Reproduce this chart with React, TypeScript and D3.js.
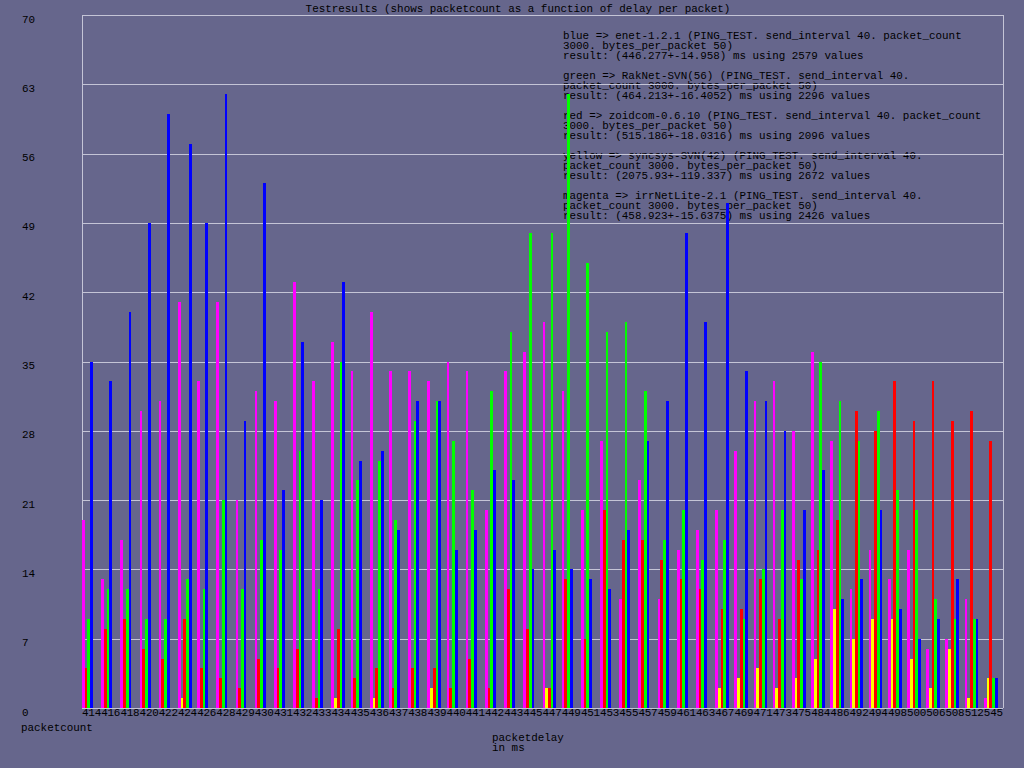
import { useCallback, useEffect, useRef } from 'react';

import { range, scaleBand, scaleLinear, select } from 'd3';

// packet delay buckets (ms)
const delays = [
  '414', '416', '418', '420', '422', '424', '426', '428', '429', '430',
  '431', '432', '433', '434', '435', '436', '437', '438', '439', '440',
  '441', '442', '443', '445', '447', '449', '451', '453', '455', '457',
  '459', '461', '463', '467', '469', '471', '473', '475', '484', '486',
  '492', '494', '498', '500', '506', '508', '512', '545',
];

// packet counts per library, one value per delay bucket
const magentaCounts = [
  19, 13, 17, 30, 31, 41, 33, 41, 21, 32, 31, 43, 33, 37, 34, 40, 34, 34, 33, 35,
  34, 20, 34, 36, 39, 32, 20, 27, 11, 23, 11, 16, 18, 20, 26, 31, 33, 28, 36, 27,
  12, 16, 13, 16, 6, 7, 11, 1,
];
const yellowCounts = [
  0, 0, 0, 0, 0, 1, 0, 0, 0, 0, 0, 0, 0, 1, 0, 1, 0, 0, 2, 0,
  0, 0, 0, 0, 2, 0, 0, 0, 0, 0, 0, 0, 0, 2, 3, 4, 2, 3, 5, 10,
  7, 9, 9, 5, 2, 6, 1, 3,
];
const redCounts = [
  4, 8, 9, 6, 5, 9, 4, 3, 2, 5, 4, 6, 1, 8, 3, 4, 2, 4, 4, 2,
  5, 2, 12, 8, 2, 13, 7, 20, 17, 17, 15, 13, 12, 10, 10, 13, 9, 15, 16, 19,
  30, 28, 33, 29, 33, 29, 30, 27,
];
const greenCounts = [
  9, 12, 12, 9, 9, 13, 12, 21, 12, 17, 16, 26, 12, 35, 23, 25, 19, 29, 31, 27,
  22, 32, 38, 48, 48, 62, 45, 38, 39, 32, 17, 20, 15, 17, 9, 14, 20, 13, 35, 31,
  27, 30, 22, 20, 11, 9, 9, 3,
];
const blueCounts = [
  35, 33, 40, 49, 60, 57, 49, 62, 29, 53, 22, 37, 21, 43, 25, 26, 18, 31, 31, 16,
  18, 24, 23, 14, 16, 14, 13, 12, 18, 27, 31, 48, 39, 51, 34, 31, 28, 20, 24, 11,
  13, 20, 10, 7, 9, 13, 9, 3,
];

const series = [
  { name: 'magenta', color: '#ff00ff', values: magentaCounts },
  { name: 'yellow', color: '#ffff00', values: yellowCounts },
  { name: 'red', color: '#ff0000', values: redCounts },
  { name: 'green', color: '#00ff00', values: greenCounts },
  { name: 'blue', color: '#0000ff', values: blueCounts },
];

const yTicks = range(0, 71, 7);

const legendLines = [
  'blue => enet-1.2.1 (PING_TEST. send_interval 40. packet_count',
  '3000. bytes_per_packet 50)',
  'result: (446.277+-14.958) ms using 2579 values',
  '',
  'green => RakNet-SVN(56) (PING_TEST. send_interval 40.',
  'packet_count 3000. bytes_per_packet 50)',
  'result: (464.213+-16.4052) ms using 2296 values',
  '',
  'red => zoidcom-0.6.10 (PING_TEST. send_interval 40. packet_count',
  '3000. bytes_per_packet 50)',
  'result: (515.186+-18.0316) ms using 2096 values',
  '',
  'yellow => syncsys-SVN(42) (PING_TEST. send_interval 40.',
  'packet_count 3000. bytes_per_packet 50)',
  'result: (2075.93+-119.337) ms using 2672 values',
  '',
  'magenta => irrNetLite-2.1 (PING_TEST. send_interval 40.',
  'packet_count 3000. bytes_per_packet 50)',
  'result: (458.923+-15.6375) ms using 2426 values',
];

const title = 'Testresults (shows packetcount as a function of delay per packet)';

export default function App() {
  const containerRef = useRef<HTMLDivElement>(null);

  const initChart = useCallback(() => {
    const container = containerRef.current;
    if (!container) return;

    const div = select(container);
    div.select('svg').remove();

    const width = 1024,
      height = 768;
    const plot = { left: 82, right: 1003, top: 15, bottom: 708 };
    const font = "'Liberation Mono', 'DejaVu Sans Mono', monospace";
    const fontSize = '10.9px';
    const gridColor = '#c4c4d6';

    const svg = div
      .append('svg')
      .attr('width', width)
      .attr('height', height)
      .style('display', 'block');

    svg.append('rect').attr('width', width).attr('height', height).attr('fill', '#66668c');

    const x = scaleBand<string>().domain(delays).range([plot.left, plot.right]);
    const y = scaleLinear().domain([0, 70]).range([plot.bottom, plot.top]);

    // title
    svg
      .append('text')
      .attr('x', 518)
      .attr('y', 12)
      .attr('text-anchor', 'middle')
      .style('font-family', font)
      .style('font-size', fontSize)
      .attr('fill', '#000')
      .text(title);

    // legend text (drawn under the grid and bars)
    svg
      .append('g')
      .selectAll('text')
      .data(legendLines)
      .join('text')
      .attr('x', 563)
      .attr('y', (_, i) => 39 + i * 10)
      .style('font-family', font)
      .style('font-size', fontSize)
      .attr('fill', '#000')
      .attr('xml:space', 'preserve')
      .text((d) => d);

    // grid
    svg
      .append('g')
      .selectAll('line')
      .data(yTicks)
      .join('line')
      .attr('x1', plot.left)
      .attr('x2', plot.right)
      .attr('y1', (d) => Math.round(y(d)) + 0.5)
      .attr('y2', (d) => Math.round(y(d)) + 0.5)
      .attr('stroke', gridColor)
      .attr('stroke-width', 1);

    svg
      .append('g')
      .selectAll('line')
      .data([plot.left, plot.right])
      .join('line')
      .attr('x1', (d) => d + 0.5)
      .attr('x2', (d) => d + 0.5)
      .attr('y1', plot.top)
      .attr('y2', plot.bottom)
      .attr('stroke', gridColor)
      .attr('stroke-width', 1);

    // y tick labels
    svg
      .append('g')
      .selectAll('text')
      .data(yTicks)
      .join('text')
      .attr('x', 22)
      .attr('y', (d) => y(d) + 7.5)
      .style('font-family', font)
      .style('font-size', fontSize)
      .attr('fill', '#000')
      .text((d) => String(d));

    // bars: only non-zero counts get a slot, packed from the bucket start
    const bw = x.bandwidth() / 7;
    const bars = delays.flatMap((d, i) =>
      series
        .filter((s) => s.values[i] > 0)
        .map((s, k) => ({ delay: d, k, value: s.values[i], color: s.color }))
    );
    svg
      .append('g')
      .attr('shape-rendering', 'crispEdges')
      .selectAll('rect')
      .data(bars)
      .join('rect')
      .attr('x', (b) => (x(b.delay) ?? 0) + b.k * bw)
      .attr('width', bw)
      .attr('y', (b) => y(b.value))
      .attr('height', (b) => y(0) - y(b.value))
      .attr('fill', (b) => b.color);

    // x tick labels
    svg
      .append('g')
      .selectAll('text')
      .data(delays)
      .join('text')
      .attr('x', (d) => x(d) ?? 0)
      .attr('y', 715.5)
      .attr('textLength', x.bandwidth())
      .attr('lengthAdjust', 'spacing')
      .style('font-family', font)
      .style('font-size', fontSize)
      .attr('fill', '#000')
      .text((d) => d);

    // axis titles
    svg
      .append('text')
      .attr('x', 21)
      .attr('y', 730.5)
      .style('font-family', font)
      .style('font-size', fontSize)
      .attr('fill', '#000')
      .text('packetcount');

    svg
      .append('g')
      .selectAll('text')
      .data(['packetdelay', 'in ms'])
      .join('text')
      .attr('x', 492)
      .attr('y', (_, i) => 740.5 + i * 10.5)
      .style('font-family', font)
      .style('font-size', fontSize)
      .attr('fill', '#000')
      .text((d) => d);
  }, []);

  const destroyChart = useCallback(() => {
    const container = containerRef.current;
    if (!container) return;
    select(container).select('svg').remove();
  }, []);

  useEffect(() => {
    initChart();
    return destroyChart;
  }, [destroyChart, initChart]);

  return (
    <div
      ref={containerRef}
      style={{ position: 'absolute', left: 0, top: 0, width: 1024, height: 768 }}
    />
  );
}
